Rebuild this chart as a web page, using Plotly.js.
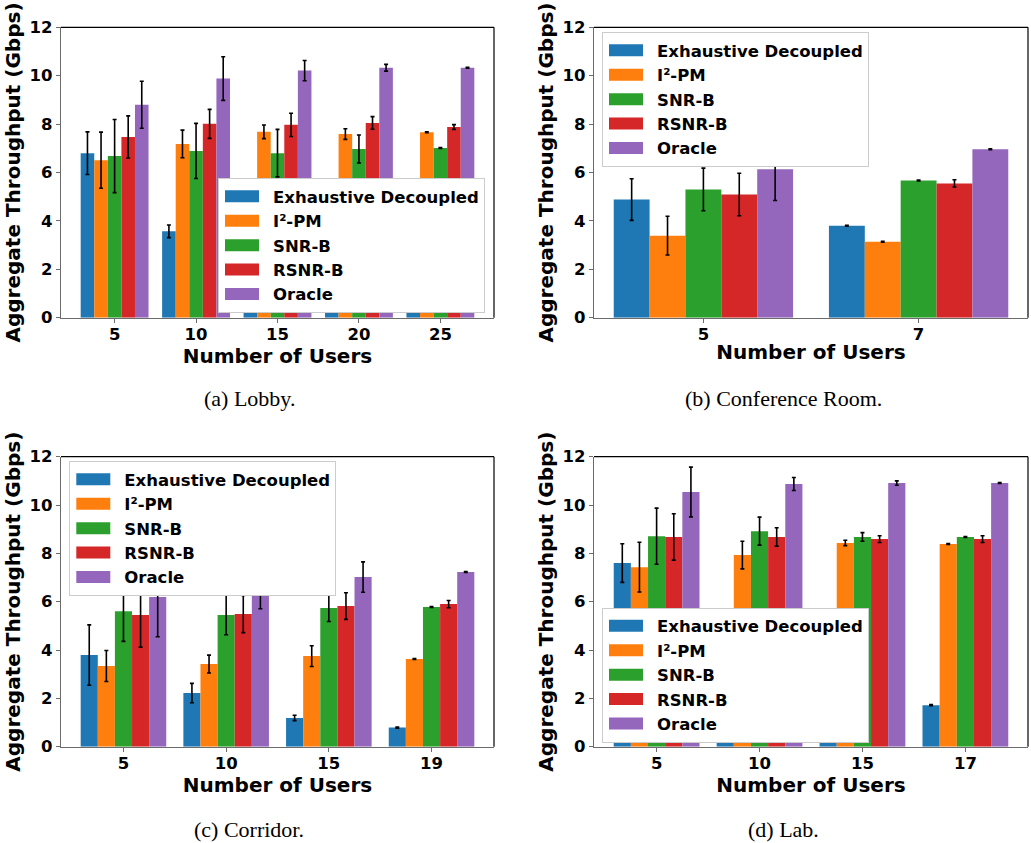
<!DOCTYPE html>
<html>
<head>
<meta charset="utf-8">
<script src="https://cdn.plot.ly/plotly-3.0.1.min.js"></script>
<style>
  html, body { margin: 0; padding: 0; background: #ffffff; }
  #fig { width: 1031px; height: 843px; }
</style>
</head>
<body>
<div id="fig"></div>
<script>
// Series shown in every panel (same order and colours throughout)
const seriesNames = ['Exhaustive Decoupled', 'I\u00b2-PM', 'SNR-B', 'RSNR-B', 'Oracle'];
const seriesColors = ['#1f77b4', '#ff7f0e', '#2ca02c', '#d62728', '#9467bd'];

// (a) Lobby: mean aggregate throughput (Gbps) per series, and error half-widths
const lobbyUsers = ['5', '10', '15', '20', '25'];
const lobbyMean = [
  [6.80, 3.57, 2.10, 1.40, 0.90],
  [6.51, 7.18, 7.68, 7.59, 7.66],
  [6.68, 6.89, 6.80, 6.97, 7.01],
  [7.47, 8.01, 7.97, 8.05, 7.88],
  [8.80, 9.88, 10.21, 10.33, 10.33]
];
const lobbyErr = [
  [0.88, 0.26, 0.15, 0.10, 0.05],
  [1.16, 0.57, 0.28, 0.22, 0.02],
  [1.51, 1.14, 0.98, 0.58, 0.02],
  [0.87, 0.60, 0.48, 0.26, 0.10],
  [0.97, 0.90, 0.42, 0.14, 0.02]
];

// (b) Conference Room
const confUsers = ['5', '7'];
const confMean = [
  [4.88, 3.80],
  [3.39, 3.14],
  [5.30, 5.67],
  [5.09, 5.55],
  [6.13, 6.96]
];
const confErr = [
  [0.86, 0.02],
  [0.80, 0.02],
  [0.88, 0.02],
  [0.88, 0.15],
  [1.29, 0.02]
];

// (c) Corridor
const corrUsers = ['5', '10', '15', '19'];
const corrMean = [
  [3.79, 2.22, 1.19, 0.79],
  [3.34, 3.42, 3.75, 3.63],
  [5.61, 5.45, 5.74, 5.78],
  [5.45, 5.49, 5.82, 5.90],
  [6.19, 6.60, 7.02, 7.23]
];
const corrErr = [
  [1.25, 0.40, 0.11, 0.02],
  [0.64, 0.37, 0.43, 0.02],
  [1.25, 0.82, 0.56, 0.02],
  [1.33, 0.77, 0.55, 0.15],
  [1.64, 0.89, 0.63, 0.02]
];

// (d) Lab
const labUsers = ['5', '10', '15', '17'];
const labMean = [
  [7.60, 4.60, 2.90, 1.72],
  [7.43, 7.93, 8.43, 8.39],
  [8.71, 8.92, 8.68, 8.68],
  [8.68, 8.68, 8.59, 8.59],
  [10.54, 10.87, 10.91, 10.91]
];
const labErr = [
  [0.80, 0.30, 0.20, 0.02],
  [1.03, 0.57, 0.11, 0.02],
  [1.16, 0.58, 0.18, 0.02],
  [0.96, 0.38, 0.14, 0.14],
  [1.03, 0.27, 0.09, 0.02]
];

const captions = ['(a) Lobby.', '(b) Conference Room.', '(c) Corridor.', '(d) Lab.'];

// Figure geometry (pixels) -> paper fractions
const W = 1031, H = 843;
const px = v => v / W;
const py = v => 1 - v / H;

const panels = [
  { users: lobbyUsers, mean: lobbyMean, err: lobbyErr, xd: [61, 494], yd: [27.3, 317.7], legendAt: [218, 178], cap: [249, 399] },
  { users: confUsers,  mean: confMean,  err: confErr,  xd: [594, 1028], yd: [27.3, 317.7], legendAt: [602, 32], cap: [783, 399] },
  { users: corrUsers,  mean: corrMean,  err: corrErr,  xd: [61, 494], yd: [456.7, 746.7], legendAt: [69.3, 461], cap: [249, 829] },
  { users: labUsers,   mean: labMean,   err: labErr,   xd: [594, 1028], yd: [456.7, 746.7], legendAt: [602, 607.5], cap: [783, 829] }
];

const FONT = 'DejaVu Sans, sans-serif';
const SPINE = '#6b6b6b';

const traces = [];
const layout = {
  width: W, height: H,
  margin: { l: 0, r: 0, t: 0, b: 0 },
  paper_bgcolor: '#ffffff',
  plot_bgcolor: '#ffffff',
  barmode: 'group',
  bargap: 1 / 6,
  bargroupgap: 0,
  font: { family: FONT, color: '#000000' },
  shapes: [],
  annotations: []
};

panels.forEach((p, i) => {
  const n = i === 0 ? '' : String(i + 1);
  const xa = 'x' + n, ya = 'y' + n;
  const legendId = 'legend' + n;

  p.mean.forEach((vals, s) => {
    traces.push({
      type: 'bar',
      name: seriesNames[s],
      x: p.users,
      y: vals,
      xaxis: xa,
      yaxis: ya,
      legend: legendId,
      marker: { color: seriesColors[s], line: { width: 0 } },
      error_y: { type: 'data', array: p.err[s], visible: true, color: '#000000', thickness: 1.6, width: 2 },
      hoverinfo: 'skip'
    });
  });

  // categorical x-axis: bars take 5/6 of each slot, 5% padding outside the outer bars
  const nCat = p.users.length;
  const span = (nCat - 1) + 5 / 6;
  const pad = 0.05 * span;
  const lo = -5 / 12 - pad, hi = (nCat - 1) + 5 / 12 + pad;

  layout['xaxis' + n] = {
    type: 'category',
    domain: [px(p.xd[0]), px(p.xd[1])],
    anchor: ya,
    range: [lo, hi],
    showline: true, linecolor: SPINE, linewidth: 1.2,
    ticks: 'outside', ticklen: 4, tickwidth: 1, tickcolor: SPINE,
    ticklabelstandoff: -3,
    tickfont: { family: FONT, size: 16.5, color: '#000000', weight: 'bold' },
    showgrid: false, zeroline: false, fixedrange: true,
    title: { text: 'Number of Users', font: { family: FONT, size: 20, color: '#000000', weight: 'bold' }, standoff: 2 }
  };
  layout['yaxis' + n] = {
    domain: [py(p.yd[1]), py(p.yd[0])],
    anchor: xa,
    range: [0, 12],
    tick0: 0, dtick: 2,
    showline: true, linecolor: SPINE, linewidth: 1.2,
    ticks: 'outside', ticklen: 4, tickwidth: 1, tickcolor: SPINE,
    tickfont: { family: FONT, size: 16.5, color: '#000000', weight: 'bold' },
    showgrid: false, zeroline: false, fixedrange: true,
    title: { text: 'Aggregate Throughput (Gbps)', font: { family: FONT, size: 20, color: '#000000', weight: 'bold' }, standoff: 3 }
  };

  // black top and right frame lines
  layout.shapes.push(
    { type: 'line', xref: xa + ' domain', yref: ya + ' domain', x0: 0, x1: 1, y0: 1, y1: 1, line: { color: '#000000', width: 1.2 } },
    { type: 'line', xref: xa + ' domain', yref: ya + ' domain', x0: 1, x1: 1, y0: 0, y1: 1, line: { color: '#000000', width: 1.2 } }
  );

  layout[legendId] = {
    x: px(p.legendAt[0]), y: py(p.legendAt[1]),
    xanchor: 'left', yanchor: 'top',
    bgcolor: '#ffffff', bordercolor: '#cccccc', borderwidth: 1,
    font: { family: FONT, size: 16.5, color: '#000000', weight: 'bold' },
    itemwidth: 44, tracegroupgap: 0, traceorder: 'normal'
  };

  layout.annotations.push({
    xref: 'paper', yref: 'paper',
    x: px(p.cap[0]), y: py(p.cap[1]),
    xanchor: 'center', yanchor: 'middle',
    text: captions[i], showarrow: false,
    font: { family: 'Liberation Serif, serif', size: 22, color: '#000000' }
  });
});

// wide rectangular legend swatches
function widenSwatches() {
  document.querySelectorAll('#fig g.legendpoints path').forEach(el => {
    el.setAttribute('d', 'M13,6H-21V-6H13Z');
  });
}

const gd = document.getElementById('fig');
Plotly.newPlot(gd, traces, layout, { displayModeBar: false, staticPlot: true }).then(() => {
  widenSwatches();
  gd.on('plotly_afterplot', widenSwatches);
});
</script>
</body>
</html>
